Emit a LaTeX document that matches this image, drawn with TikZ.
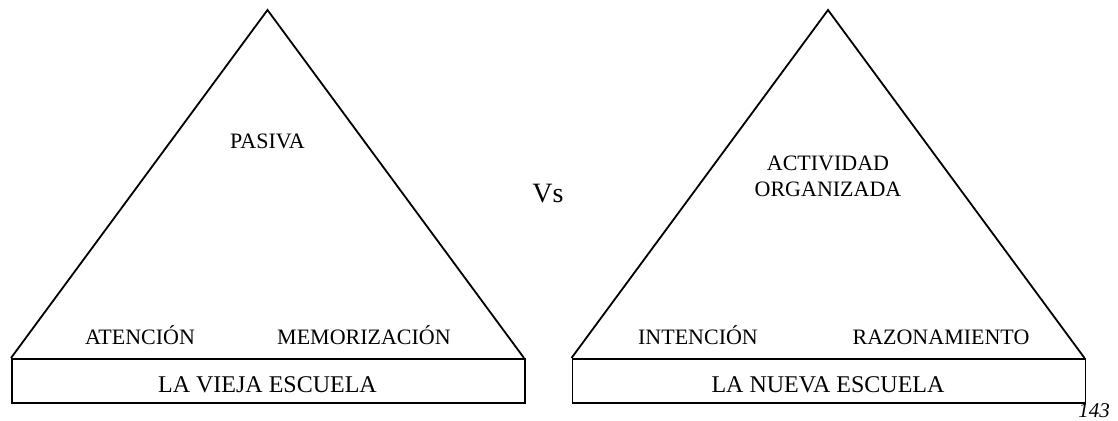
\documentclass[tikz,border=0pt]{standalone}
\usepackage{fontspec}
\setmainfont{Liberation Serif}
\usetikzlibrary{positioning}
\tikzset{
  label/.style={anchor=base, inner sep=0pt, font=\fontsize{22}{26}\selectfont},
  schoolbox/.style={draw, line width=1.8pt, minimum width=513pt, minimum height=44pt, inner sep=0pt},
  schoolname/.style={anchor=base, inner sep=0pt, font=\fontsize{24}{28}\selectfont}
}
\begin{document}
\begin{tikzpicture}[x=1pt, y=-1pt, line join=miter]
        \useasboundingbox (0,0) rectangle (1118,420);
        % Left triangle and its base
        \coordinate (lapex) at (267.5,10);
        \coordinate (lleft) at (11,358);
        \coordinate (lright) at (524,358);
        \draw[line width=1.8pt] (lleft) -- (lapex) -- (lright);
        \node[schoolbox, anchor=north west] (vieja) at (lleft) {};
        \node[schoolname] (viejatext) at (267.5,392) {LA VIEJA ESCUELA};

        % Right triangle and its base
        \coordinate (rapex) at (828,10);
        \coordinate (rleft) at (571.5,358);
        \coordinate (rright) at (1084.5,358);
        \draw[line width=1.8pt] (rleft) -- (rapex) -- (rright);
        \node[schoolbox, anchor=north west] (nueva) at (rleft) {};
        \node[schoolname] (nuevatext) at (828,392) {LA NUEVA ESCUELA};

        % Labels inside the triangles
        \node[label] (pasiva) at (267.5,148) {PASIVA};
        \node[label] (atencion) at (140,344) {ATENCIÓN};
        \node[label] (memorizacion) at (364,344) {MEMORIZACIÓN};
        \node[label] (actividad) at (828,170) {ACTIVIDAD};
        \node[label] (organizada) at (828,196) {ORGANIZADA};
        \node[label] (intencion) at (698,344) {INTENCIÓN};
        \node[label] (razonamiento) at (941,344) {RAZONAMIENTO};

        % Versus and page number
        \node[anchor=base, inner sep=0pt, font=\fontsize{28}{32}\selectfont] (vs) at (548,202) {Vs};
        \node[anchor=base, inner sep=0pt, font=\fontsize{21}{24}\selectfont\itshape] (page) at (1094,417) {143};
\end{tikzpicture}
\end{document}
